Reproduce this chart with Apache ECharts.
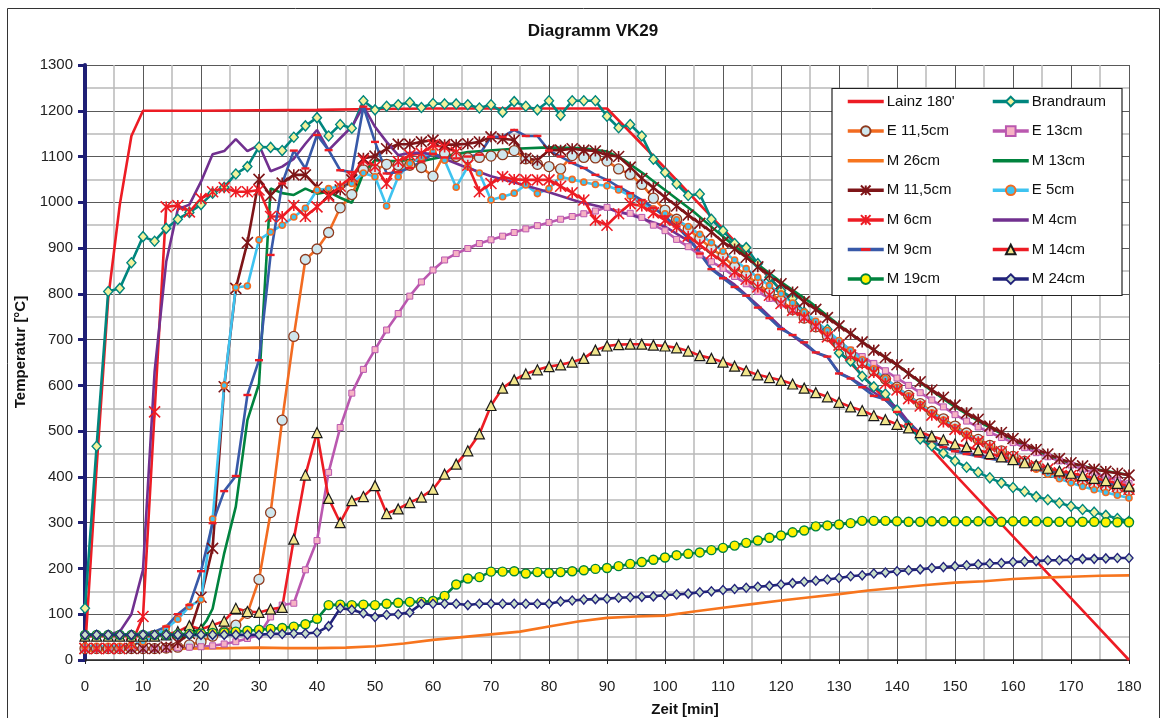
<!DOCTYPE html>
<html>
<head>
<meta charset="utf-8">
<script src="https://cdn.jsdelivr.net/npm/echarts@6/dist/echarts.min.js"></script>
<style>
html,body{margin:0;padding:0;background:#fff;}
#chart{width:1162px;height:718px;}
</style>
</head>
<body>
<div id="chart"></div>
<script>
// ---- data (time in minutes, temperature in °C) ----
const T = [0,2,4,6,8,10,12,14,16,18,20,22,24,26,28,30,32,34,36,38,40,42,44,46,48,50,52,54,56,58,60,62,64,66,68,70,72,74,76,78,80,82,84,86,88,90,92,94,96,98,100,102,104,106,108,110,112,114,116,118,120,122,124,126,128,130,132,134,136,138,140,142,144,146,148,150,152,154,156,158,160,162,164,166,168,170,172,174,176,178,180];

const lainzT = [0,2,4,6,8,10,20,30,40,50,60,70,80,90,100,110,120,130,140,150,160,170,180];
const lainzV = [20,420,790,995,1145,1200,1200,1201,1202,1204,1205,1205,1205,1205,1075,942,808,675,543,405,270,135,0];

const brandraum = [113,467,805,812,868,925,915,943,963,978,
995,1020,1033,1062,1078,1121,1120,1113,1142,1167,
1185,1145,1170,1162,1222,1202,1210,1213,1218,1207,
1216,1215,1215,1213,1206,1213,1197,1220,1210,1202,
1222,1190,1222,1222,1222,1188,1163,1170,1145,1094,
1065,1040,1015,1018,963,938,910,901,866,836,
807,790,760,729,722,671,653,620,597,581,
546,512,483,468,452,435,421,410,398,387,
377,368,357,350,343,336,329,323,316,309,303];

const e115 = [25,25,25,25,25,25,25,26,28,33,
40,52,62,76,102,176,322,524,707,875,
898,934,988,1017,1071,1071,1083,1081,1081,1076,
1057,1107,1100,1097,1098,1101,1104,1113,1095,1083,
1078,1073,1102,1098,1097,1090,1073,1061,1039,1009,
983,963,941,921,899,882,859,841,822,803,
785,766,747,728,708,689,670,650,632,614,
596,578,560,543,527,511,496,482,469,457,
445,434,423,413,404,396,389,383,378,374,370];

const e13 = [25,25,25,25,25,25,25,25,27,28,
29,31,35,40,47,55,94,120,124,197,
261,410,508,583,635,678,721,757,795,826,
852,874,888,899,910,918,926,934,942,949,
956,963,969,975,981,989,977,976,967,950,
938,919,903,885,870,856,838,822,805,790,
778,765,749,732,714,695,677,663,648,632,
616,600,584,568,553,536,522,509,497,486,
475,464,453,444,435,426,417,409,400,393,386];

const m26T = [0,5,10,15,20,25,30,35,40,45,50,55,60,65,70,75,80,85,90,95,100,105,110,115,120,125,130,135,140,145,150,155,160,165,170,175,180];
const m26V = [20,22,23,24,25,26,27,26,26,27,30,36,44,50,56,62,73,84,92,95,97,106,114,122,130,137,144,152,158,164,169,172,177,180,182,184,185];

const m13T = [0,10,16,18,20,21,22,24,26,28,30,32,34,36,38,40,42,44,46,48,50,52,54,56,58,60,66,74,80,86,90,93,97,100,105,110,115,120,125,130,135,140,145,150,155,160,165,170,175,180];
const m13V = [55,55,55,56,70,87,112,233,335,524,603,1030,1020,1016,1030,1019,1023,1010,999,1064,1092,1090,1090,1093,1090,1095,1110,1117,1120,1118,1111,1092,1056,1027,979,925,874,826,782,732,686,645,597,553,515,481,453,430,415,404];

const m115 = [25,25,25,25,25,25,25,28,38,58,
137,244,597,812,912,1050,1015,1042,1060,1060,
1033,1016,1027,1049,1096,1101,1117,1127,1127,1132,
1136,1126,1126,1128,1132,1143,1139,1136,1096,1092,
1114,1114,1117,1114,1112,1103,1100,1077,1052,1032,
1011,992,972,954,935,913,898,880,859,841,
822,804,783,766,748,730,713,695,677,661,
645,626,608,590,574,557,540,526,511,497,
484,472,460,450,440,431,424,417,412,408,404];

const e5 = [30,30,30,30,32,40,52,69,89,117,
132,308,600,814,817,918,935,950,968,987,
1027,1030,1035,1041,1064,1056,992,1056,1085,1098,
1110,1092,1033,1078,1064,1005,1012,1020,1038,1019,
1030,1056,1050,1044,1039,1036,1027,1014,998,986,
975,962,947,930,912,893,874,855,836,818,
800,780,760,740,720,698,677,656,636,615,
596,577,558,540,524,508,493,478,465,452,
440,428,417,406,396,387,379,372,366,360,354];

const m6 = [25,25,25,25,35,95,542,990,993,979,
1008,1023,1032,1023,1023,1027,969,969,993,969,
990,1013,1035,1056,1092,1078,1041,1089,1103,1107,
1125,1121,1110,1081,1023,1041,1056,1050,1049,1049,
1049,1035,1021,1005,961,950,975,997,992,977,
961,946,926,907,888,870,848,832,815,797,
779,764,748,729,706,688,666,647,628,604,
590,571,555,535,520,504,489,477,466,455,
444,435,424,417,409,403,397,391,385,379,373];

const m4T = [0,2,4,6,8,10,12,14,16,18,20,22,24,26,28,30,32,34,36,38,40,42,44,46,48,50,52,54,56,58,60,65,70,75,80,85,90,95,100,105,108,112,116,120,124,126,128,130,132,134,136,138,140,142,144,146,148,150,155,160,165,170,175,180];
const m4V = [52,53,55,62,100,197,630,870,985,995,1045,1105,1112,1138,1112,1125,1068,1078,1095,1128,1158,1114,1140,1165,1210,1165,1132,1103,1108,1108,1105,1080,1057,1040,1022,1002,987,969,947,908,855,820,775,727,690,671,662,628,616,600,585,568,552,520,495,478,465,457,445,433,418,404,391,377];

const m9 = [55,55,55,55,56,57,62,73,100,120,
194,299,369,402,579,655,885,1041,1113,1074,
1147,1114,1070,1066,1209,1132,1063,1066,1075,1089,
1106,1098,1096,1100,1104,1143,1143,1158,1145,1145,
1113,1100,1086,1075,1060,1049,1034,1020,1005,988,
969,947,922,888,854,834,815,796,770,747,
723,710,694,672,663,626,615,596,577,569,
542,515,495,478,465,456,450,445,440,436,
432,425,420,414,409,403,398,393,388,382,375];

const m14 = [52,52,52,52,52,52,52,55,62,75,
67,76,85,113,106,104,111,115,264,404,
497,353,300,348,357,381,320,330,344,356,
373,406,428,457,494,556,594,612,625,634,
641,645,651,659,677,686,689,690,690,688,
686,682,675,665,659,651,642,632,623,617,
611,603,594,584,575,563,553,545,534,525,
515,507,497,489,481,472,466,459,451,444,
438,431,426,419,413,408,403,397,392,386,380];

const m19 = [55,55,55,55,55,55,55,55,56,57,
58,59,60,62,64,66,68,70,73,78,
90,120,121,120,121,120,123,125,127,127,
129,140,165,178,181,193,193,194,189,192,
190,192,194,196,199,201,205,210,214,219,
224,229,232,235,240,245,250,256,261,267,
272,279,283,292,294,296,299,304,304,304,
303,302,302,303,303,303,303,303,303,302,
303,303,303,302,302,302,302,302,301,301,301];

const m24 = [55,55,55,55,55,55,55,55,55,55,
55,55,55,55,55,55,57,57,58,58,
60,74,113,110,102,94,99,100,104,123,
123,123,123,120,123,123,123,123,123,123,
123,128,130,132,133,134,136,137,138,139,
142,143,145,148,150,153,155,158,160,162,
165,168,171,173,176,179,183,185,189,191,
194,196,198,201,203,205,207,209,211,212,
214,215,216,218,218,219,221,221,222,223,223];

const xTicks = [0,10,20,30,40,50,60,70,80,90,100,110,120,130,140,150,160,170,180];
const yTicks = [0,100,200,300,400,500,600,700,800,900,1000,1100,1200,1300];

// ---- helpers ----
function pairs(ts, vs){ return ts.map(function(t,i){ return [t, vs[i]]; }); }
const FONT = '"Liberation Sans", Arial, sans-serif';
const STAR = 'path://M0,0L10,10M10,0L0,10M5,0L5,10';
const DASH = 'path://M0,0M10,10M0,3.5H10V6.5H0Z';

function mk(name, data, line, sym, size, fill, border, bw){
  const s = {
    name: name, type: 'line', data: data,
    showAllSymbol: true,
    lineStyle: {color: line, width: 2.6},
    emphasis: {disabled: true},
    animation: false
  };
  if (!sym) {
    // plain line: invisible symbol so the legend shows only the line
    s.symbol = 'circle';
    s.showSymbol = false;
    s.itemStyle = {color: 'rgba(0,0,0,0)', borderWidth: 0};
  } else {
    s.symbol = sym;
    s.symbolSize = size;
    s.itemStyle = {color: fill, borderColor: border, borderWidth: bw};
  }
  return s;
}

const series = [
  mk("Lainz 180'", pairs(lainzT, lainzV), '#ED1C24'),
  mk('Brandraum', pairs(T, brandraum), '#00867E', 'diamond', [9,10], '#F4F29C', '#00867E', 1.4),
  mk('E 11,5cm', pairs(T, e115), '#F26B21', 'circle', 10, '#CFE7EE', '#8E3A1E', 1.3),
  mk('E 13cm', pairs(T, e13), '#BA58AF', 'rect', 6, '#F6B3C4', '#BA58AF', 1),
  mk('M 26cm', pairs(m26T, m26V), '#F7751E'),
  mk('M 13cm', pairs(m13T, m13V), '#00833E'),
  mk('M 11,5cm', pairs(T, m115), '#7E1518', STAR, 11, 'rgba(0,0,0,0)', '#7E1518', 1.6),
  mk('E 5cm', pairs(T, e5), '#3EC3F0', 'circle', 6, '#3EC3F0', '#F26B21', 1.6),
  mk('M 6cm', pairs(T, m6), '#ED1C24', STAR, 11, 'rgba(0,0,0,0)', '#ED1C24', 1.6),
  mk('M 4cm', pairs(m4T, m4V), '#71308F'),
  mk('M 9cm', pairs(T, m9), '#3859A8', DASH, 8, '#ED1C24', '#ED1C24', 0),
  mk('M 14cm', pairs(T, m14), '#ED1C24', 'triangle', 10, '#F2E68C', '#1A1A1A', 1.2),
  mk('M 19cm', pairs(T, m19), '#00833E', 'circle', 9, '#FFF200', '#00833E', 1.4),
  mk('M 24cm', pairs(T, m24), '#22237A', 'diamond', [8,9], '#C9DFC9', '#22237A', 1.4)
];

const leftNames = ["Lainz 180'", 'E 11,5cm', 'M 26cm', 'M 11,5cm', 'M 6cm', 'M 9cm', 'M 19cm'];
const rightNames = ['Brandraum', 'E 13cm', 'M 13cm', 'E 5cm', 'M 4cm', 'M 14cm', 'M 24cm'];

function legendCol(names, left){
  return {
    z: 20,
    data: names, orient: 'vertical', left: left, top: 94,
    padding: 0, itemWidth: 36, itemHeight: 12, itemGap: 14.6,
    selectedMode: false,
    lineStyle: {width: 3.5},
    textStyle: {fontFamily: FONT, fontSize: 15, color: '#111', lineHeight: 15, padding: [0,0,0,-2]}
  };
}

const chart = echarts.init(document.getElementById('chart'), null, {renderer: 'canvas'});
chart.setOption({
  animation: false,
  backgroundColor: '#ffffff',
  title: {
    text: 'Diagramm VK29', left: 588, top: 18, textAlign: 'center',
    textStyle: {fontFamily: FONT, fontSize: 17, fontWeight: 'bold', color: '#111'}
  },
  grid: {left: 85, right: 33, top: 65, bottom: 58, containLabel: false},
  xAxis: {
    type: 'value', min: 0, max: 180, interval: 10,
    axisLine: {show: true, lineStyle: {color: '#222', width: 1.5}},
    axisTick: {show: true, length: 4, lineStyle: {color: '#222'}},
    axisLabel: {fontFamily: FONT, fontSize: 15, color: '#222', margin: 19,
      formatter: function(v){ return xTicks.indexOf(v) >= 0 ? String(v) : ''; }},
    splitLine: {show: true, lineStyle: {color: '#595959', width: 1}},
    minorTick: {show: false, splitNumber: 2},
    minorSplitLine: {show: true, lineStyle: {color: '#b9b9b9', width: 1.5}}
  },
  yAxis: {
    type: 'value', min: 0, max: 1300, interval: 100,
    axisLine: {show: true, onZero: false, lineStyle: {color: '#1F1F75', width: 4}},
    axisTick: {show: true, length: 7, lineStyle: {color: '#1F1F75', width: 3}},
    axisLabel: {fontFamily: FONT, fontSize: 15, color: '#222', margin: 12,
      formatter: function(v){ return yTicks.indexOf(v) >= 0 ? String(v) : ''; }},
    splitLine: {show: true, lineStyle: {color: '#595959', width: 1}},
    minorTick: {show: false, splitNumber: 2},
    minorSplitLine: {show: true, lineStyle: {color: '#b9b9b9', width: 1.5}}
  },
  legend: [legendCol(leftNames, 846), legendCol(rightNames, 991)],
  graphic: [
    {type: 'rect', z: 0, silent: true, shape: {x: 7.5, y: 8.5, width: 1152, height: 730},
     style: {fill: 'none', stroke: '#333', lineWidth: 1}},
    {type: 'rect', z: 5, silent: true, shape: {x: 832, y: 88.5, width: 290, height: 207},
     style: {fill: '#ffffff', stroke: '#222', lineWidth: 1.2}},
    {type: 'text', silent: true, x: 685, y: 710,
     style: {text: 'Zeit [min]', font: 'bold 15px ' + FONT, fill: '#111', textAlign: 'center', textVerticalAlign: 'middle'}},
    {type: 'text', silent: true, x: 21, y: 352, rotation: Math.PI / 2,
     style: {text: 'Temperatur [°C]', font: 'bold 15px ' + FONT, fill: '#111', textAlign: 'center', textVerticalAlign: 'middle'}}
  ],
  series: series
});
</script>
</body>
</html>
